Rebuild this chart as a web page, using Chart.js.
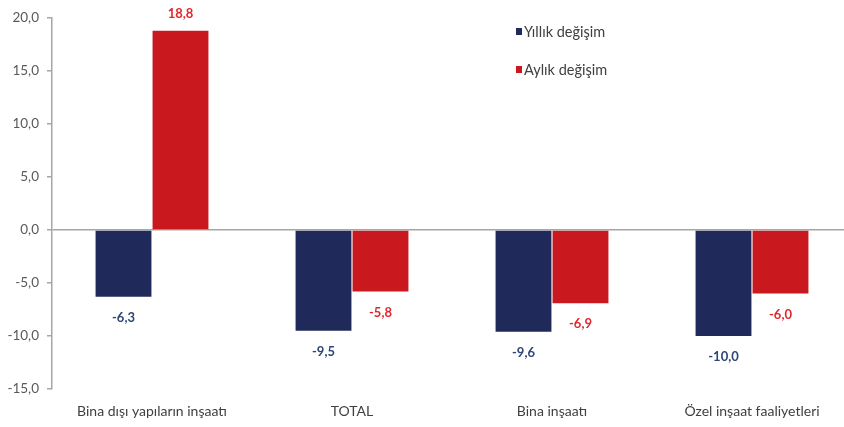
<!DOCTYPE html>
<html>
<head>
<meta charset="utf-8">
<script src="https://cdn.jsdelivr.net/npm/chart.js@4.4.1/dist/chart.umd.min.js"></script>
<style>
  html, body { margin: 0; padding: 0; background: #fff; overflow: hidden; }
  #wrap { width: 860px; height: 427px; }
</style>
</head>
<body>
<div id="wrap"><canvas id="chart" width="860" height="427"></canvas></div>
<script>
// Construction change rates, % (annual vs monthly)
const CATEGORIES = ['Bina dışı yapıların inşaatı', 'TOTAL', 'Bina inşaatı', 'Özel inşaat faaliyetleri'];
const ANNUAL = [-6.3, -9.5, -9.6, -10.0];
const MONTHLY = [18.8, -5.8, -6.9, -6.0];
const SERIES_NAMES = ['Yıllık değişim', 'Aylık değişim'];

const NAVY = '#1f2a5b';
const RED = '#c9191f';
const LABEL_COLORS = ['#2f4577', '#e3262b'];
const FONT = 'Lato, "Open Sans", sans-serif';

const fmt = v => v.toFixed(1).replace('.', ',');

// value labels above/below each bar + small vertical legend
const barLabels = {
    id: 'barLabels',
    afterDatasetsDraw(chart) {
        const ctx = chart.ctx;
        ctx.save();
        ctx.font = 'bold 13px ' + FONT;
        ctx.textAlign = 'center';
        ctx.textBaseline = 'middle';
        chart.data.datasets.forEach((ds, i) => {
            const meta = chart.getDatasetMeta(i);
            ctx.fillStyle = LABEL_COLORS[i];
            meta.data.forEach((bar, j) => {
                const v = ds.data[j];
                const y = v >= 0 ? bar.y - 17 : bar.y + 21;
                ctx.fillText(fmt(v), bar.x, y);
            });
        });

        ctx.font = '14.5px ' + FONT;
        ctx.textAlign = 'left';
        chart.data.datasets.forEach((ds, i) => {
            const y = 32 + i * 38;
            ctx.fillStyle = ds.backgroundColor;
            ctx.fillRect(516, y - 4, 6, 7);
            ctx.fillStyle = '#404040';
            ctx.fillText(ds.label, 524, y);
        });
        ctx.restore();
    }
};

new Chart(document.getElementById('chart').getContext('2d'), {
    type: 'bar',
    data: {
        labels: CATEGORIES,
        datasets: [
            { label: SERIES_NAMES[0], data: ANNUAL, backgroundColor: NAVY, borderWidth: 0,
              barPercentage: 0.98, categoryPercentage: 0.57 },
            { label: SERIES_NAMES[1], data: MONTHLY, backgroundColor: RED, borderWidth: 0,
              barPercentage: 0.98, categoryPercentage: 0.57 },
        ],
    },
    options: {
        responsive: false,
        animation: false,
        layout: { padding: { top: 18, right: 8, left: 0, bottom: 0 } },
        plugins: { legend: { display: false }, tooltip: { enabled: false } },
        scales: {
            x: {
                grid: { display: false },
                border: { display: false },
                ticks: { color: '#404040', font: { family: FONT, size: 14 }, padding: 6, maxRotation: 0 },
                afterFit: s => { s.height = 38; },
            },
            y: {
                min: -15,
                max: 20,
                ticks: { stepSize: 5, color: '#595959', font: { family: FONT, size: 13.5 }, padding: 8,
                         callback: v => fmt(v) },
                grid: {
                    color: c => c.tick && c.tick.value === 0 ? '#a6a6a6' : 'rgba(0,0,0,0)',
                    tickColor: '#a6a6a6',
                    tickLength: 5,
                    lineWidth: 1.5,
                },
                border: { color: '#a6a6a6', width: 1.5 },
                afterFit: s => { s.width = 52; },
            },
        },
    },
    plugins: [barLabels],
});
</script>
</body>
</html>
